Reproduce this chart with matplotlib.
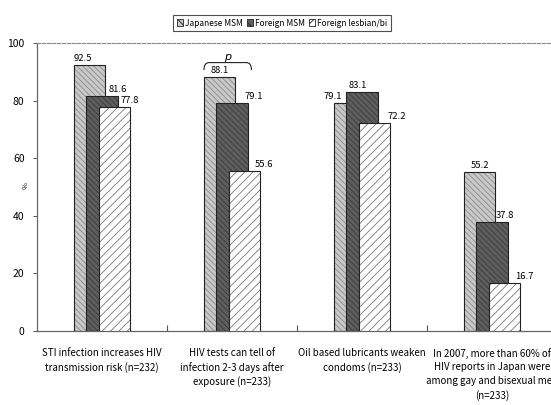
import matplotlib
matplotlib.use("Agg")
import matplotlib.pyplot as plt
from matplotlib.patches import Patch, PathPatch
from matplotlib.path import Path
import numpy as np

plt.rcParams["font.family"] = ["Noto Sans CJK JP", "DejaVu Sans"]
plt.rcParams["hatch.linewidth"] = 0.6

# data
categories = [
    "STI infection increases HIV\ntransmission risk (n=232)",
    "HIV tests can tell of\ninfection 2-3 days after\nexposure (n=233)",
    "Oil based lubricants weaken\ncondoms (n=233)",
    "In 2007, more than 60% of\nHIV reports in Japan were\namong gay and bisexual men\n(n=233)",
]
series = ["Japanese MSM", "Foreign MSM", "Foreign lesbian/bi"]
japanese_msm = [92.5, 88.1, 79.1, 55.2]
foreign_msm = [81.6, 79.1, 83.1, 37.8]
foreign_lesbian = [77.8, 55.6, 72.2, 16.7]
yticks = [0, 20, 40, 60, 80, 100]

# style
FACES = ["#c9c9c9", "#5e5e5e", "#ffffff"]
HATCH_C = ["#8a8a8a", "#3a3a3a", "#7a7a7a"]
HATCHES = ["\\\\\\\\\\\\", "\\\\\\\\\\\\", "////"]
WIDTH = 0.24
STEP = 0.096
# label nudges (x in category units) so labels sit clear of neighbouring bars
LABEL_DX = [
    [-0.05, 0.0, -0.13, 0.0],
    [0.12, 0.17, -0.03, 0.10],
    [0.12, 0.15, 0.17, 0.15],
]

fig = plt.figure(figsize=(5.51, 4.05), dpi=100)
ax = fig.add_axes([37 / 551, 74 / 405, 520 / 551, 288 / 405])

x = np.arange(len(categories))
for i, vals in enumerate([japanese_msm, foreign_msm, foreign_lesbian]):
    xs = x + (i - 1) * STEP
    ax.bar(xs, vals, WIDTH, color=FACES[i], hatch=HATCHES[i],
           edgecolor=HATCH_C[i], linewidth=0, zorder=2 + 2 * i)
    ax.bar(xs, vals, WIDTH, fill=False, edgecolor="#222222",
           linewidth=0.8, zorder=3 + 2 * i)
    for j, v in enumerate(vals):
        ax.annotate(f"{v}", (xs[j] + LABEL_DX[i][j], v), xytext=(0, 1.5),
                    textcoords="offset points", ha="center", va="bottom",
                    fontsize=6.8, zorder=10)

# bracket with p over the second group
x0 = x[1] - STEP - WIDTH / 2
x1 = x[1] + WIDTH / 2 + 0.03
yb, yt = 90.6, 93.2
verts = [(x0, yb), (x0, yt), (x0 + 0.04, yt), (x1 - 0.04, yt),
         (x1, yt), (x1, yb)]
codes = [Path.MOVETO, Path.CURVE3, Path.CURVE3, Path.LINETO,
         Path.CURVE3, Path.CURVE3]
ax.add_patch(PathPatch(Path(verts, codes), fill=False, lw=0.8,
                       edgecolor="#222222", zorder=10))
ax.text((x0 + x1) / 2, yt + 0.3, "p", style="italic", ha="center",
        va="bottom", fontsize=8, family="DejaVu Sans")

ax.set_xlim(-0.5, len(categories) - 0.5)
ax.set_ylim(0, 100)
ax.set_yticks(yticks)
ax.tick_params(axis="y", direction="out", length=3, width=0.7,
               labelsize=7.5, pad=6, color="#555555")
ax.set_xticks(x)
ax.set_xticklabels(categories, fontsize=7, linespacing=1.45)
ax.tick_params(axis="x", which="major", length=0, pad=12)
ax.set_xticks(x[:-1] + 0.5, minor=True)
ax.tick_params(axis="x", which="minor", direction="in", length=4,
               width=0.8, color="#555555")
ax.set_ylabel("%", fontsize=5.5, rotation=-90, va="center", ha="center")
ax.yaxis.set_label_coords(-0.027, 0.507)

for s in ["left", "bottom"]:
    ax.spines[s].set_color("#666666")
    ax.spines[s].set_linewidth(0.9)
ax.spines["right"].set_visible(False)
ax.spines["top"].set_linestyle((0, (3, 1.5)))
ax.spines["top"].set_color("#888888")
ax.spines["top"].set_linewidth(0.8)

handles = [Patch(facecolor=FACES[i], edgecolor="#222222", hatch=HATCHES[i][:4],
                 linewidth=0.6, label=series[i]) for i in range(3)]
leg = fig.legend(handles=handles, loc="center", bbox_to_anchor=(282 / 551, 382 / 405),
                 ncol=3, fontsize=6.0, frameon=True, fancybox=False,
                 handlelength=0.8, handleheight=0.8, handletextpad=0.25,
                 columnspacing=0.4, borderpad=0.4, borderaxespad=0)
leg.get_frame().set_edgecolor("#222222")
leg.get_frame().set_linewidth(0.8)

fig.savefig("out.png", dpi=100, facecolor="white")
